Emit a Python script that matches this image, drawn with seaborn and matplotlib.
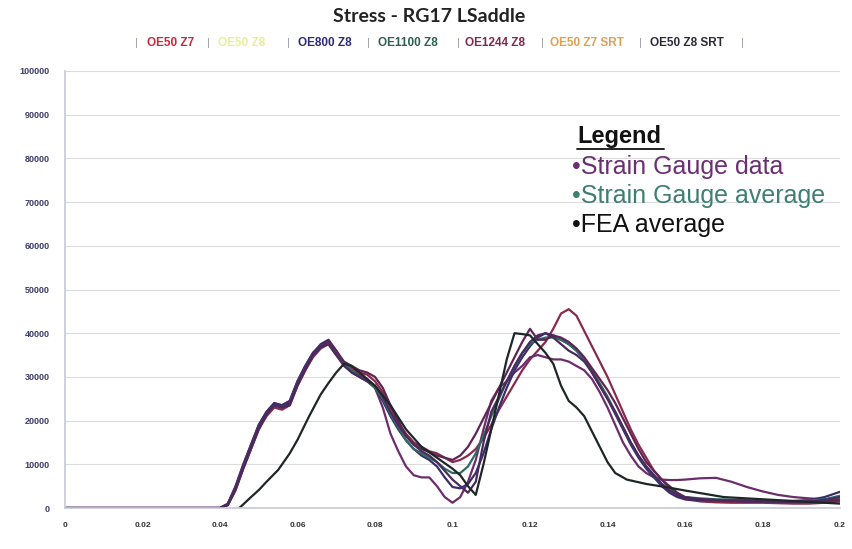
import matplotlib
matplotlib.use("Agg")
import matplotlib.pyplot as plt
import seaborn as sns
import pandas as pd

# ---------------- data ----------------
X_SG = [0, 0.01, 0.02, 0.03,
        0.040, 0.042, 0.044, 0.046, 0.048, 0.050, 0.052, 0.054, 0.056, 0.058,
        0.060, 0.062, 0.064, 0.066, 0.068, 0.070, 0.072, 0.074, 0.076, 0.078,
        0.080, 0.082, 0.084, 0.086, 0.088, 0.090, 0.092, 0.094, 0.096, 0.098,
        0.100, 0.102, 0.104, 0.106, 0.108, 0.110, 0.112, 0.114, 0.116, 0.118,
        0.120, 0.122, 0.124, 0.126, 0.128, 0.130, 0.132, 0.134, 0.136, 0.138,
        0.140, 0.142, 0.144, 0.146, 0.148, 0.150, 0.152, 0.154, 0.156, 0.158,
        0.160, 0.164, 0.168, 0.172, 0.176, 0.180, 0.184, 0.188, 0.192, 0.196, 0.200]

OE50_Z7 = [0, 0, 0, 0,
           0, 700, 4200, 9000, 13500, 18000, 21000, 23000, 22500, 23500,
           28000, 31500, 34500, 36500, 37500, 35000, 33000, 32000, 31000, 30500,
           29000, 26500, 23000, 19500, 17000, 15000, 14000, 13000, 12500, 11500,
           10500, 11000, 12000, 13500, 16000, 19000, 22500, 25500, 28500, 31500,
           34000, 36000, 38000, 41000, 44500, 45500, 44000, 40500, 37000, 33500,
           30000, 26000, 22000, 18000, 14500, 11500, 8500, 6500, 4500, 3000,
           2000, 1500, 1300, 1200, 1200, 1200, 1100, 1000, 1000, 1200, 1500]

OE50_Z8 = [0, 0, 0, 0,
           0, 1000, 5000, 10000, 14500, 19000, 22000, 24000, 23500, 24500,
           29000, 32500, 35500, 37000, 38000, 35500, 33000, 31500, 30500, 29500,
           27500, 23000, 17000, 13000, 9500, 7500, 7000, 7000, 5000, 2500,
           1200, 2500, 6000, 11000, 18000, 24500, 27500, 29000, 31000, 32500,
           34500, 35000, 34500, 34000, 34000, 33500, 32500, 31500, 29500, 26500,
           23000, 19000, 15000, 12000, 9500, 8000, 7000, 6500, 6400, 6400,
           6500, 6800, 6900, 6000, 4800, 3800, 3000, 2500, 2200, 2000, 2000]

OE800_Z8 = [0, 0, 0, 0,
            0, 900, 4800, 9800, 14500, 19000, 22000, 24000, 23500, 24500,
            29000, 32500, 35500, 37500, 38500, 36000, 33000, 31000, 30000, 29000,
            27500, 24500, 21000, 18000, 15500, 13500, 12000, 11000, 9500, 7000,
            4800, 4500, 5500, 8000, 12500, 18000, 23000, 27500, 31500, 34500,
            37000, 39000, 40000, 39500, 38500, 37500, 36000, 34000, 31000, 28000,
            25000, 21500, 18000, 14500, 11500, 9000, 7000, 5000, 3500, 2500,
            2000, 1800, 1700, 1600, 1500, 1500, 1500, 1600, 1800, 2500, 3700]

OE1100_Z8 = [0, 0, 0, 0,
             0, 800, 4500, 9500, 14000, 18500, 21500, 23500, 23000, 24000,
             28500, 32000, 35000, 36800, 37800, 35500, 33000, 31500, 30000, 29000,
             27500, 25000, 21500, 18500, 15500, 13500, 12500, 11500, 10500, 9000,
             8000, 8000, 9500, 12500, 16500, 21000, 25000, 29000, 32500, 35500,
             37500, 38500, 39000, 39000, 38500, 37500, 36000, 34000, 31500, 28500,
             25500, 22000, 18500, 15000, 12000, 9500, 7500, 5500, 4200, 3200,
             2500, 2200, 2000, 1900, 1800, 1700, 1600, 1600, 1700, 2000, 2800]

OE1244_Z8 = [0, 0, 0, 0,
             0, 600, 4000, 9000, 13500, 18000, 21500, 23500, 23000, 23500,
             28000, 31500, 35000, 37000, 38200, 36000, 33500, 32500, 31500, 31000,
             30000, 27500, 23500, 20000, 16500, 14500, 13500, 12800, 12000, 11500,
             11000, 12000, 14000, 17000, 20500, 24000, 27500, 31000, 34500, 38000,
             41000, 38500, 38500, 39500, 39000, 38000, 36500, 34500, 32000, 29500,
             27000, 24000, 20500, 17000, 13500, 10500, 8500, 6500, 5000, 3500,
             2500, 2000, 1800, 1700, 1600, 1500, 1500, 1400, 1400, 1500, 1800]

OE50_Z7_SRT = [0, 0, 0, 0,
               0, 800, 4500, 9500, 14000, 18500, 21500, 23500, 23000, 24000,
               28500, 32000, 35000, 36800, 37500, 35000, 32500, 31000, 30000, 29000,
               28000, 25500, 22000, 19000, 16500, 14500, 13000, 12000, 10500, 8500,
               6500, 5000, 3500, 6000, 15000, 22000, 25500, 29000, 32500, 35500,
               38000, 39500, 40000, 39000, 37500, 36000, 35000, 33500, 31000, 28000,
               25000, 22000, 18500, 15000, 12000, 9500, 7500, 5500, 4000, 3000,
               2300, 2000, 1800, 1700, 1600, 1500, 1400, 1400, 1500, 1800, 2500]

X_FEA = [0.045, 0.048, 0.050, 0.052, 0.055, 0.058, 0.060, 0.063, 0.066, 0.068,
         0.070, 0.072, 0.074, 0.076, 0.078, 0.080, 0.084, 0.088, 0.092, 0.096,
         0.100, 0.102, 0.104, 0.106, 0.108, 0.110, 0.112, 0.114, 0.116, 0.118,
         0.120, 0.122, 0.124, 0.126, 0.128, 0.130, 0.132, 0.134, 0.136, 0.138,
         0.140, 0.142, 0.145, 0.150, 0.155, 0.160, 0.170, 0.180, 0.190, 0.200]
OE50_Z8_SRT = [0, 2500, 4100, 6000, 8700, 12500, 15600, 21000, 26000, 28600,
               31000, 33000, 32500, 31000, 29500, 28000, 23500, 18000, 14000, 11500,
               9000, 7500, 5000, 3000, 10000, 18000, 26000, 34000, 40000, 39800,
               39500, 37500, 35500, 33000, 28000, 24500, 23000, 21000, 17500, 14000,
               10500, 8000, 6500, 5500, 4800, 4000, 2500, 2000, 1500, 1000]

SERIES = ["OE50 Z7", "OE50 Z8", "OE800 Z8", "OE1100 Z8", "OE1244 Z8",
          "OE50 Z7 SRT", "OE50 Z8 SRT"]
HEADER_COLORS = ["#c8283c", "#e6ef9a", "#2e2a78", "#2f5f52", "#7a2a4a",
                 "#e0a050", "#2a2a3a"]
LINE_COLORS = ["#8a2a4a", "#6b2d6b", "#3a2d6e", "#2f6b63", "#5e2456",
               "#4a2a5c", "#1f2628"]
X_TICKS = [0, 0.02, 0.04, 0.06, 0.08, 0.1, 0.12, 0.14, 0.16, 0.18, 0.2]
X_TICKLABELS = ["0", "0.02", "0.04", "0.06", "0.08", "0.1", "0.12", "0.14",
                "0.16", "0.18", "0.2"]
Y_TICKS = [0, 10000, 20000, 30000, 40000, 50000, 60000, 70000, 80000, 90000, 100000]

# ---------------- build frame ----------------
ys = [OE50_Z7, OE50_Z8, OE800_Z8, OE1100_Z8, OE1244_Z8, OE50_Z7_SRT]
frames = []
for name, y in zip(SERIES[:6], ys):
    frames.append(pd.DataFrame({"x": X_SG, "stress": y, "series": name}))
frames.append(pd.DataFrame({"x": X_FEA, "stress": OE50_Z8_SRT, "series": SERIES[6]}))
df = pd.concat(frames, ignore_index=True)

# ---------------- plot ----------------
sns.set_theme(style="white")
plt.rcParams["font.family"] = ["Liberation Sans", "DejaVu Sans"]

fig = plt.figure(figsize=(8.53, 5.49), dpi=100)
ax = fig.add_axes([65 / 853, 1 - 508 / 549, 775 / 853, 437 / 549])

sns.lineplot(data=df, x="x", y="stress", hue="series", hue_order=SERIES,
             palette=dict(zip(SERIES, LINE_COLORS)), estimator=None, sort=False,
             legend=False, linewidth=1.6, ax=ax)

ax.set_xlim(0, 0.2)
ax.set_ylim(0, 100000)
ax.set_xticks(X_TICKS)
ax.set_xticklabels(X_TICKLABELS, fontsize=6, color="#333333", fontweight="bold")
ax.set_yticks(Y_TICKS)
ax.set_yticklabels([str(v) for v in Y_TICKS], fontsize=6.5, color="#3b3b6b",
                   fontweight="bold")
ax.set_xlabel("")
ax.set_ylabel("")
ax.grid(axis="y", color="#dcdcdc", linewidth=0.8)
ax.grid(axis="x", visible=False)
for s in ["top", "right"]:
    ax.spines[s].set_visible(False)
ax.spines["left"].set_color("#c8cad8")
ax.spines["bottom"].set_color("#c8cad8")
ax.tick_params(axis="y", length=3, color="#c8cad8", pad=8)
ax.tick_params(axis="x", length=3, color="#c8cad8", pad=7)

# title
fig.text(429 / 853, 1 - 17 / 549, "Stress - RG17 LSaddle", ha="center",
         va="center", fontsize=14, fontweight="bold", color="#222222",
         family=["Lato", "DejaVu Sans"])

# header series labels
label_x = [147, 218, 298, 378, 465, 550, 650]
sep_x = [136, 208, 288, 368, 458, 542, 640, 742]
hy = 1 - 43 / 549
for sx in sep_x:
    fig.text(sx / 853, hy, "|", ha="center", va="center", fontsize=8,
             color="#9a9aa8")
for lx, name, c in zip(label_x, SERIES, HEADER_COLORS):
    fig.text(lx / 853, hy, name, ha="left", va="center", fontsize=8.5,
             fontweight="bold", color=c)

# text legend
ax.text(577 / 853, 1 - 136 / 549, "Legend", transform=fig.transFigure,
        fontsize=17, fontweight="bold", color="#111111", va="center", ha="left")
ax.plot([577 / 853, 664 / 853], [1 - 149 / 549, 1 - 149 / 549],
        transform=fig.transFigure, color="#111111", linewidth=1.3, clip_on=False)
ax.text(572 / 853, 1 - 167 / 549, "•Strain Gauge data", transform=fig.transFigure,
        fontsize=18, color="#6b2f73", va="center", ha="left")
ax.text(572 / 853, 1 - 196 / 549, "•Strain Gauge average", transform=fig.transFigure,
        fontsize=18, color="#3e7f74", va="center", ha="left")
ax.text(572 / 853, 1 - 225 / 549, "•FEA average", transform=fig.transFigure,
        fontsize=18, color="#111111", va="center", ha="left")

fig.savefig("out.png", dpi=100)
